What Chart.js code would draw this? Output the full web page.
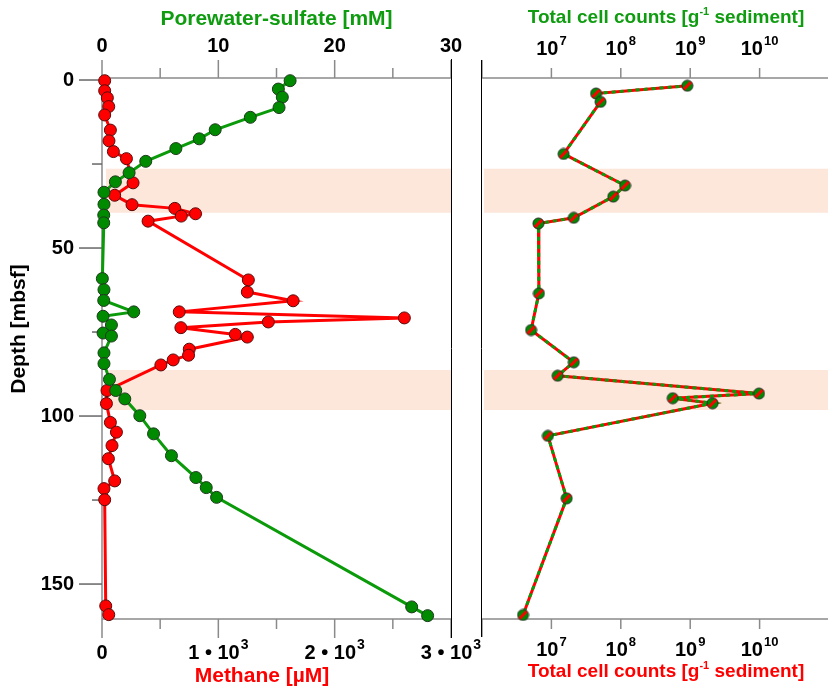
<!DOCTYPE html>
<html>
<head>
<meta charset="utf-8">
<script src="https://cdn.jsdelivr.net/npm/chart.js@4.4.1/dist/chart.umd.min.js"></script>
<style>
  html, body { margin: 0; padding: 0; background: #fff; overflow: hidden; }
  #wrap { position: relative; width: 828px; height: 686px; overflow: hidden; background: #fff; }
  canvas { position: absolute; top: 0; }
  #leftChart { left: 0; }
  #rightChart { left: 470px; }
</style>
</head>
<body>
<div id="wrap">
  <canvas id="leftChart" width="490" height="686"></canvas>
  <canvas id="rightChart" width="366" height="686"></canvas>
</div>
<script>
// porewater sulfate (mM) vs depth (mbsf)
const sulfateDepth = [0.2, 2.7, 5.1, 8.2, 11.1, 14.8, 17.5, 20.4, 24.2, 27.6, 30.3, 33.4, 37.0, 40.2, 42.5,
  59.1, 62.4, 65.6, 69.0, 70.3, 72.9, 75.3, 76.2, 81.2, 84.4, 89.1, 92.4, 94.9, 99.9, 105.3,
  111.8, 118.3, 121.3, 124.2, 156.8, 159.4];
const sulfateMM = [16.17, 15.16, 15.5, 15.22, 12.75, 9.73, 8.36, 6.35, 3.76, 2.33, 1.15, 0.17, 0.17, 0.15, 0.15,
  0.03, 0.17, 0.15, 2.73, 0.09, 0.81, 0.09, 0.81, 0.17, 0.17, 0.64, 1.18, 1.96, 3.25, 4.43,
  5.97, 8.07, 8.96, 9.85, 26.62, 27.99];

// methane (uM) vs depth
const methaneDepth = [0.2, 3.2, 5.3, 7.9, 10.4, 14.9, 18.1, 21.3, 23.4, 30.6, 34.3, 37.1, 38.2, 39.8, 40.5, 42.0,
  59.5, 63.1, 65.7, 69.0, 70.8, 72.0, 73.7, 75.7, 76.5, 80.1, 81.9, 83.3, 84.8,
  92.4, 96.3, 101.9, 104.8, 108.8, 112.7, 119.3, 121.6, 124.9, 156.5, 159.1];
const methaneUM = [23, 23, 46, 58, 23, 72, 60, 98, 210, 267, 109, 258, 626, 804, 681, 396,
  1258, 1249, 1643, 664, 2599, 1430, 678, 1146, 1249, 750, 744, 612, 506,
  43, 38, 72, 124, 86, 55, 109, 17, 23, 32, 58];

// total cell counts per g sediment vs depth
const cellDepth = [1.7, 4.0, 6.5, 22.0, 31.4, 34.7, 41.0, 42.7, 63.5, 74.4, 84.0, 88.0, 93.3, 94.7, 96.2, 105.9, 124.5, 159.2];
const cellCounts = [9.1e8, 4.4e7, 5.1e7, 1.5e7, 1.15e8, 7.8e7, 2.1e7, 6.5e6, 6.6e6, 5.1e6, 2.1e7, 1.23e7,
  9.8e9, 5.6e8, 2.1e9, 8.9e6, 1.66e7, 3.9e6];

// shaded depth intervals
const bandTop = [26.4, 86.3];
const bandBottom = [39.5, 98.2];

// axis ticks
const depthTicks = [0, 25, 50, 75, 100, 125, 150];
const depthLabels = ["0", "", "50", "", "100", "", "150"];
const sulfateTicks = [0, 5, 10, 15, 20, 25, 30];
const sulfateLabels = ["0", "", "10", "", "20", "", "30"];
const methaneTicks = [0, 500, 1000, 1500, 2000, 2500, 3000];
const methaneLabels = [["0"], [], ["1 \u2022 10", "3"], [], ["2 \u2022 10", "3"], [], ["3 \u2022 10", "3"]];
const cellTicks = [1e6, 1e7, 1e8, 1e9, 1e10];
const cellLabels = [[], ["10", "7"], ["10", "8"], ["10", "9"], ["10", "10"]];

const RED = "#ff0000";
const GREEN_TXT = "#109c10";
const GREEN_LINE = "#0a9a0a";
const GREEN_PT = "#008a00";
const AXIS_GRAY = "#8a8a8a";
const BAND_COLOR = "#fde6da";
const FONT = "'Liberation Sans', Arial, sans-serif";

function drawRich(ctx, parts, x, y, align, size, supSize, color) {
  // parts[0] normal text, parts[1] superscript
  ctx.save();
  ctx.fillStyle = color;
  ctx.textBaseline = "middle";
  ctx.textAlign = "left";
  ctx.font = `bold ${size}px ${FONT}`;
  const w0 = ctx.measureText(parts[0]).width;
  let w1 = 0;
  if (parts[1]) {
    ctx.font = `bold ${supSize}px ${FONT}`;
    w1 = ctx.measureText(parts[1]).width + 1;
  }
  const total = w0 + w1;
  let sx = x;
  if (align === "center") sx = x - total / 2;
  if (align === "right") sx = x - total;
  ctx.font = `bold ${size}px ${FONT}`;
  ctx.fillText(parts[0], sx, y);
  if (parts[1]) {
    ctx.font = `bold ${supSize}px ${FONT}`;
    ctx.fillText(parts[1], sx + w0 + 1, y - size * 0.38);
  }
  ctx.restore();
}

function line(ctx, x1, y1, x2, y2, color, width) {
  ctx.beginPath();
  ctx.strokeStyle = color;
  ctx.lineWidth = width;
  ctx.moveTo(x1, y1);
  ctx.lineTo(x2, y2);
  ctx.stroke();
}

const bandPlugin = {
  id: "bands",
  beforeDatasetsDraw(chart, args, opts) {
    const { ctx, chartArea } = chart;
    const y = chart.scales.y;
    ctx.save();
    ctx.fillStyle = BAND_COLOR;
    bandTop.forEach((top, i) => {
      const y0 = y.getPixelForValue(top);
      const y1 = y.getPixelForValue(bandBottom[i]);
      ctx.fillRect(chartArea.left + opts.inset, y0, chartArea.right - chartArea.left - opts.inset, y1 - y0);
    });
    ctx.restore();
  }
};

const leftFrame = {
  id: "leftFrame",
  beforeDatasetsDraw(chart) {
    const { ctx, chartArea: a } = chart;
    const xs = chart.scales.xs, xm = chart.scales.xm, y = chart.scales.y;
    ctx.save();
    line(ctx, a.left, a.top, a.right, a.top, AXIS_GRAY, 1.5);
    line(ctx, a.left, a.bottom, a.right, a.bottom, AXIS_GRAY, 1.5);
    line(ctx, a.left, a.top, a.left, a.bottom, AXIS_GRAY, 1.5);
    sulfateTicks.forEach((v, i) => {
      const px = xs.getPixelForValue(v);
      line(ctx, px, a.top, px, a.top - (sulfateLabels[i] ? 18 : 10), AXIS_GRAY, 1.5);
    });
    methaneTicks.forEach((v, i) => {
      const px = xm.getPixelForValue(v);
      line(ctx, px, a.bottom, px, a.bottom + (methaneLabels[i].length ? 19 : 10), AXIS_GRAY, 1.5);
    });
    depthTicks.forEach((v, i) => {
      const py = y.getPixelForValue(v);
      line(ctx, a.left, py, a.left - (depthLabels[i] ? 23 : 10), py, "#666", 1.5);
    });
    line(ctx, a.right + 0.5, a.top - 19, a.right + 0.5, a.bottom + 19, "#000", 1);
    ctx.restore();
  },
  afterDraw(chart) {
    const { ctx, chartArea: a } = chart;
    const xs = chart.scales.xs, xm = chart.scales.xm, y = chart.scales.y;
    sulfateTicks.forEach((v, i) => {
      if (sulfateLabels[i]) drawRich(ctx, [sulfateLabels[i]], xs.getPixelForValue(v), a.top - 31.5, "center", 20, 14, "#000");
    });
    methaneTicks.forEach((v, i) => {
      if (methaneLabels[i].length) drawRich(ctx, methaneLabels[i], xm.getPixelForValue(v), a.bottom + 34, "center", 20, 14, "#000");
    });
    depthTicks.forEach((v, i) => {
      if (depthLabels[i]) drawRich(ctx, [depthLabels[i]], a.left - 28, y.getPixelForValue(v), "right", 20, 14, "#000");
    });
    drawRich(ctx, ["Porewater-sulfate [mM]"], (a.left + a.right) / 2, 19.5, "center", 21, 14, GREEN_TXT);
    drawRich(ctx, ["Methane [\u00b5M]"], 262, 676, "center", 21, 14, RED);
    ctx.save();
    ctx.translate(19, 329);
    ctx.rotate(-Math.PI / 2);
    drawRich(ctx, ["Depth [mbsf]"], 0, 0, "center", 21, 14, "#000");
    ctx.restore();
  }
};

const rightFrame = {
  id: "rightFrame",
  beforeDatasetsDraw(chart) {
    const { ctx, chartArea: a } = chart;
    const x = chart.scales.xb;
    ctx.save();
    line(ctx, a.left, a.top, a.right, a.top, AXIS_GRAY, 1.5);
    line(ctx, a.left, a.bottom, a.right, a.bottom, AXIS_GRAY, 1.5);
    cellTicks.forEach((v, i) => {
      const px = x.getPixelForValue(v);
      const len = i === 0 ? 18 : 10;
      line(ctx, px, a.top, px, a.top - len, AXIS_GRAY, 1.5);
      line(ctx, px, a.bottom, px, a.bottom + len, AXIS_GRAY, 1.5);
    });
    line(ctx, a.left - 0.5, a.top - 18, a.left - 0.5, a.bottom + 18, "#000", 1);
    ctx.restore();
  },
  afterDraw(chart) {
    const { ctx, chartArea: a } = chart;
    const x = chart.scales.xb;
    cellTicks.forEach((v, i) => {
      if (!cellLabels[i].length) return;
      const px = x.getPixelForValue(v);
      drawRich(ctx, cellLabels[i], px, a.top - 29, "center", 20, 13, "#000");
      drawRich(ctx, cellLabels[i], px, a.bottom + 31, "center", 20, 13, "#000");
    });
    const cx = 196;
    drawCellTitle(ctx, cx, 17.5, GREEN_TXT);
    drawCellTitle(ctx, cx, 672, RED);
  }
};

function drawCellTitle(ctx, cx, cy, color) {
  // "Total cell counts [g-1 sediment]" with superscript -1
  const a = "Total cell counts [g", s = "-1", b = " sediment]";
  ctx.save();
  ctx.fillStyle = color;
  ctx.textBaseline = "middle";
  ctx.textAlign = "left";
  ctx.font = `bold 19px ${FONT}`;
  const wa = ctx.measureText(a).width, wb = ctx.measureText(b).width;
  ctx.font = `bold 11px ${FONT}`;
  const ws = ctx.measureText(s).width;
  let sx = cx - (wa + ws + wb) / 2;
  ctx.font = `bold 19px ${FONT}`;
  ctx.fillText(a, sx, cy);
  ctx.font = `bold 11px ${FONT}`;
  ctx.fillText(s, sx + wa, cy - 6);
  ctx.font = `bold 19px ${FONT}`;
  ctx.fillText(b, sx + wa + ws, cy);
  ctx.restore();
}

function makeCellMarker(r) {
  const size = Math.ceil(r * 2 + 2);
  const c = document.createElement("canvas");
  c.width = size;
  c.height = size;
  const g = c.getContext("2d");
  const m = size / 2;
  g.beginPath();
  g.arc(m, m, r, 0, Math.PI * 2);
  g.fillStyle = GREEN_PT;
  g.fill();
  g.save();
  g.clip();
  g.strokeStyle = RED;
  g.lineWidth = 3;
  g.beginPath();
  g.moveTo(0, size);
  g.lineTo(size, 0);
  g.stroke();
  g.restore();
  g.beginPath();
  g.arc(m, m, r, 0, Math.PI * 2);
  g.strokeStyle = "#2a2a2a";
  g.lineWidth = 1;
  g.stroke();
  return c;
}

const baseOptions = {
  responsive: false,
  animation: false,
  devicePixelRatio: 1,
  events: [],
  plugins: { legend: { display: false }, tooltip: { enabled: false } }
};

new Chart(document.getElementById("leftChart"), {
  type: "scatter",
  data: {
    datasets: [
      {
        label: "Porewater-sulfate",
        data: sulfateDepth.map((d, i) => ({ x: sulfateMM[i], y: d })),
        xAxisID: "xs",
        yAxisID: "y",
        showLine: true,
        borderColor: GREEN_LINE,
        borderWidth: 3,
        pointRadius: 6,
        pointBackgroundColor: GREEN_PT,
        pointBorderColor: "#1e3a1e",
        pointBorderWidth: 1,
        clip: false,
        order: 0
      },
      {
        label: "Methane",
        data: methaneDepth.map((d, i) => ({ x: methaneUM[i], y: d })),
        xAxisID: "xm",
        yAxisID: "y",
        showLine: true,
        borderColor: RED,
        borderWidth: 3,
        pointRadius: 6,
        pointBackgroundColor: RED,
        pointBorderColor: "#5a0a0a",
        pointBorderWidth: 1,
        clip: false,
        order: 1
      }
    ]
  },
  options: {
    ...baseOptions,
    layout: { padding: { left: 102, right: 39, top: 78, bottom: 67 } },
    scales: {
      xs: { type: "linear", position: "top", min: 0, max: 30, display: false },
      xm: { type: "linear", position: "bottom", min: 0, max: 3000, display: false },
      y: { type: "linear", reverse: true, min: -0.6, max: 160.4, display: false }
    },
    plugins: { ...baseOptions.plugins, bands: { inset: 4 } }
  },
  plugins: [bandPlugin, leftFrame]
});

const cellMarker = makeCellMarker(5.5);
const cellPoints = cellDepth.map((d, i) => ({ x: cellCounts[i], y: d }));

new Chart(document.getElementById("rightChart"), {
  type: "scatter",
  data: {
    datasets: [
      {
        label: "Total cell counts",
        data: cellPoints,
        xAxisID: "xb",
        yAxisID: "y",
        showLine: true,
        borderColor: GREEN_LINE,
        borderWidth: 3,
        borderDash: [4, 4],
        pointStyle: cellMarker,
        clip: false,
        order: 0
      },
      {
        label: "Total cell counts (line)",
        data: cellPoints,
        xAxisID: "xb",
        yAxisID: "y",
        showLine: true,
        borderColor: RED,
        borderWidth: 3,
        pointRadius: 0,
        clip: false,
        order: 1
      }
    ]
  },
  options: {
    ...baseOptions,
    layout: { padding: { left: 12, right: 4.3, top: 78, bottom: 67 } },
    scales: {
      xb: { type: "logarithmic", position: "bottom", min: 1e6, max: 1e11, display: false },
      y: { type: "linear", reverse: true, min: -0.6, max: 160.4, display: false }
    },
    plugins: { ...baseOptions.plugins, bands: { inset: 2 } }
  },
  plugins: [bandPlugin, rightFrame]
});
</script>
</body>
</html>
